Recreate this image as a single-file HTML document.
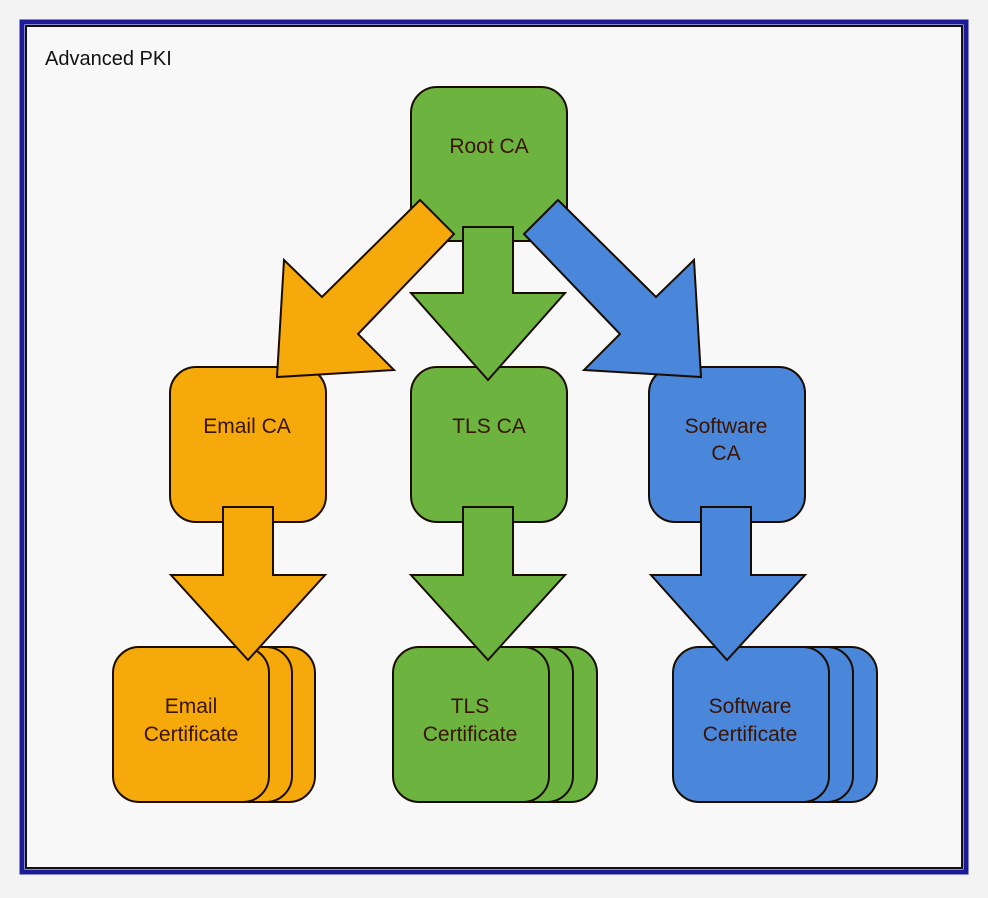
<!DOCTYPE html>
<html><head><style>
body{margin:0;background:#f4f4f4;}
svg{display:block}
text{font-family:"Liberation Sans",sans-serif;font-size:21px;fill:#3a1400;text-anchor:middle}
</style></head><body>
<svg width="988" height="898" viewBox="0 0 988 898">
<rect x="0" y="0" width="988" height="898" fill="#f3f3f3"/>
<rect x="22" y="22" width="944" height="850" fill="#f8f8f8" stroke="#1c1c9a" stroke-width="5"/>
<rect x="26" y="26" width="936" height="842" fill="none" stroke="#111" stroke-width="2"/>
<text x="45" y="65" style="text-anchor:start;fill:#111;font-size:20px">Advanced PKI</text>
<g stroke="#1a0d00" stroke-width="2">
<rect x="411" y="87" width="156" height="154" rx="26" fill="#6db33f"/>
<rect x="170" y="367" width="156" height="155" rx="26" fill="#f5a90b"/>
<rect x="411" y="367" width="156" height="155" rx="26" fill="#6db33f"/>
<rect x="649" y="367" width="156" height="155" rx="26" fill="#4a86d9"/>
<polygon points="420,200 454,234 358,334 394,370 277,377 284,260 322,297" fill="#f5a90b"/>
<polygon points="558,200 524,234 620,334 584,370 701,377 694,260 656,297" fill="#4a86d9"/>
<polygon points="463,227 513,227 513,293 565,293 488,380 411,293 463,293" fill="#6db33f"/>
<rect x="159" y="647" width="156" height="155" rx="26" fill="#f5a90b"/>
<rect x="136" y="647" width="156" height="155" rx="26" fill="#f5a90b"/>
<rect x="113" y="647" width="156" height="155" rx="26" fill="#f5a90b"/>
<rect x="441" y="647" width="156" height="155" rx="26" fill="#6db33f"/>
<rect x="417" y="647" width="156" height="155" rx="26" fill="#6db33f"/>
<rect x="393" y="647" width="156" height="155" rx="26" fill="#6db33f"/>
<rect x="721" y="647" width="156" height="155" rx="26" fill="#4a86d9"/>
<rect x="697" y="647" width="156" height="155" rx="26" fill="#4a86d9"/>
<rect x="673" y="647" width="156" height="155" rx="26" fill="#4a86d9"/>
<polygon points="223,507 273,507 273,575 325,575 248,660 171,575 223,575" fill="#f5a90b"/>
<polygon points="463,507 513,507 513,575 565,575 488,660 411,575 463,575" fill="#6db33f"/>
<polygon points="701,507 751,507 751,575 805,575 727,660 651,575 701,575" fill="#4a86d9"/>
</g>
<text x="489" y="153">Root CA</text>
<text x="247" y="433">Email CA</text>
<text x="489" y="433">TLS CA</text>
<text x="726" y="433">Software</text>
<text x="726" y="460">CA</text>
<text x="191" y="713">Email</text>
<text x="191" y="741">Certificate</text>
<text x="470" y="713">TLS</text>
<text x="470" y="741">Certificate</text>
<text x="750" y="713">Software</text>
<text x="750" y="741">Certificate</text>
</svg>
</body></html>
